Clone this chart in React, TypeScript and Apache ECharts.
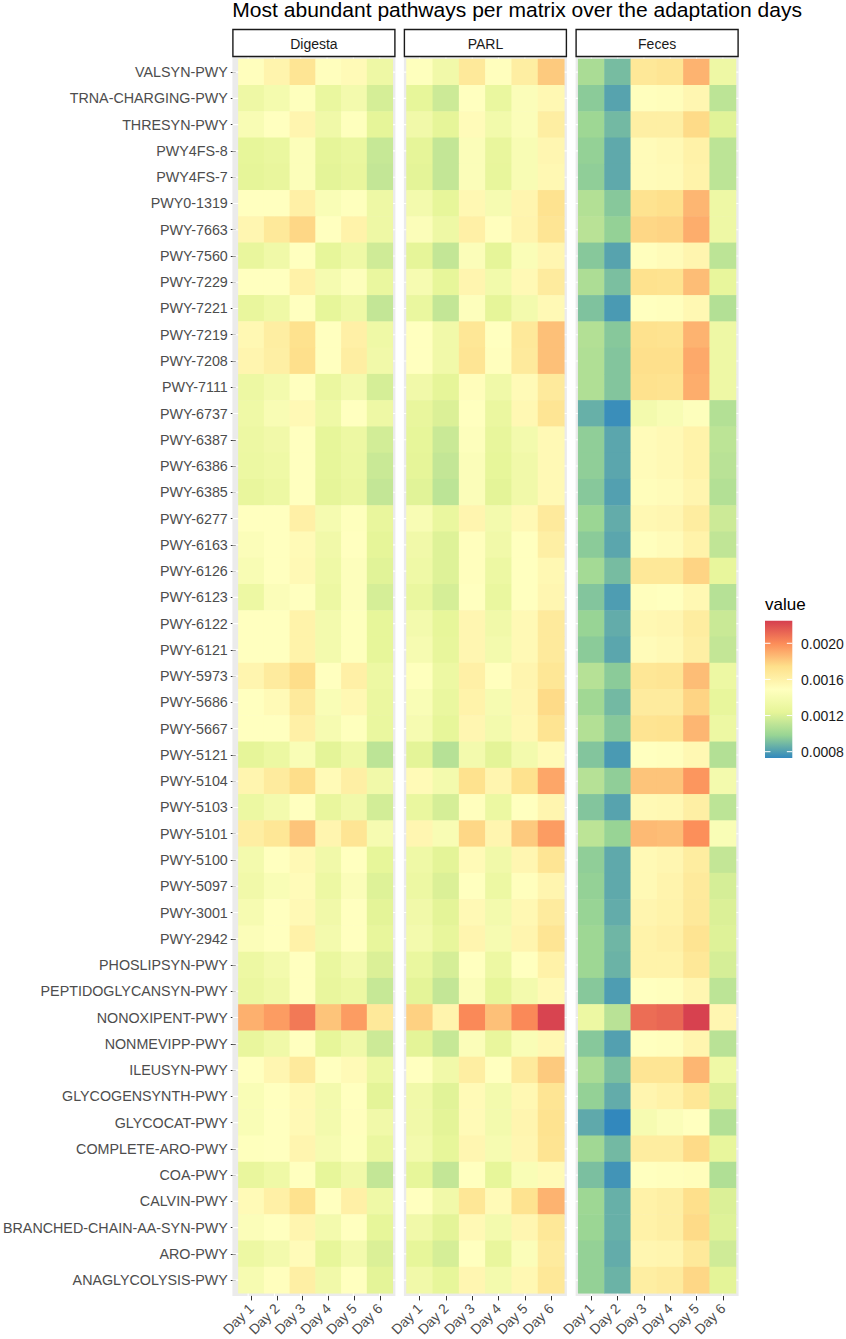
import React, { useEffect, useRef } from "react";
import * as echarts from "echarts";

const pathways = [
  "VALSYN-PWY", "TRNA-CHARGING-PWY", "THRESYN-PWY", "PWY4FS-8", "PWY4FS-7", "PWY0-1319",
  "PWY-7663", "PWY-7560", "PWY-7229", "PWY-7221", "PWY-7219", "PWY-7208", "PWY-7111",
  "PWY-6737", "PWY-6387", "PWY-6386", "PWY-6385", "PWY-6277", "PWY-6163", "PWY-6126",
  "PWY-6123", "PWY-6122", "PWY-6121", "PWY-5973", "PWY-5686", "PWY-5667", "PWY-5121",
  "PWY-5104", "PWY-5103", "PWY-5101", "PWY-5100", "PWY-5097", "PWY-3001", "PWY-2942",
  "PHOSLIPSYN-PWY", "PEPTIDOGLYCANSYN-PWY", "NONOXIPENT-PWY", "NONMEVIPP-PWY", "ILEUSYN-PWY",
  "GLYCOGENSYNTH-PWY", "GLYCOCAT-PWY", "COMPLETE-ARO-PWY", "COA-PWY", "CALVIN-PWY",
  "BRANCHED-CHAIN-AA-SYN-PWY", "ARO-PWY", "ANAGLYCOLYSIS-PWY",
];

const days = ["Day 1", "Day 2", "Day 3", "Day 4", "Day 5", "Day 6"];
const facets = ["Digesta", "PARL", "Feces"];

// values in units of 1e-5 (relative abundance), rows follow `pathways`, columns follow `days`
const digesta = [
  [150, 158, 170, 150, 153, 132], [132, 138, 148, 128, 137, 118], [142, 149, 157, 134, 148, 124],
  [125, 128, 146, 124, 128, 113], [124, 127, 146, 123, 127, 112], [149, 149, 161, 143, 148, 132],
  [156, 167, 177, 149, 159, 132], [127, 134, 149, 125, 133, 116], [149, 149, 160, 139, 147, 128],
  [127, 133, 149, 125, 133, 112], [155, 163, 173, 149, 161, 133], [157, 162, 174, 149, 163, 135],
  [131, 137, 149, 129, 137, 118], [133, 142, 154, 133, 149, 132], [131, 135, 149, 125, 131, 117],
  [130, 133, 149, 125, 130, 114], [127, 131, 149, 124, 129, 112], [149, 149, 161, 139, 148, 127],
  [145, 149, 153, 135, 149, 124], [142, 149, 154, 133, 147, 122], [131, 145, 149, 131, 147, 118],
  [149, 149, 159, 137, 148, 125], [149, 149, 159, 137, 148, 125], [157, 165, 175, 149, 161, 131],
  [149, 153, 166, 143, 155, 129], [149, 149, 161, 140, 148, 128], [124, 130, 143, 123, 133, 110],
  [157, 165, 175, 153, 162, 135], [130, 137, 149, 127, 135, 117], [163, 169, 183, 157, 170, 140],
  [137, 149, 154, 135, 149, 125], [135, 143, 152, 131, 145, 121], [140, 149, 154, 135, 149, 123],
  [145, 149, 160, 137, 149, 126], [131, 137, 149, 128, 137, 120], [129, 134, 149, 127, 131, 113],
  [189, 195, 206, 183, 195, 167], [127, 134, 149, 125, 134, 115], [149, 156, 166, 149, 153, 131],
  [143, 149, 154, 137, 149, 123], [143, 149, 154, 137, 150, 135], [148, 149, 157, 140, 148, 129],
  [127, 133, 149, 125, 135, 112], [153, 161, 173, 149, 161, 133], [145, 149, 157, 137, 149, 125],
  [131, 137, 152, 125, 137, 120], [140, 150, 162, 135, 149, 123],
];

const parl = [
  [148, 135, 167, 150, 163, 181], [125, 115, 149, 128, 145, 155], [135, 124, 152, 136, 145, 163],
  [124, 112, 145, 127, 142, 156], [123, 112, 145, 126, 142, 155], [137, 125, 155, 140, 157, 172],
  [145, 132, 161, 150, 158, 170], [124, 112, 145, 124, 144, 156], [140, 125, 157, 136, 154, 165],
  [128, 112, 147, 124, 137, 154], [149, 135, 169, 149, 167, 184], [149, 135, 170, 150, 166, 184],
  [135, 124, 151, 134, 153, 166], [127, 120, 149, 129, 155, 170], [125, 114, 147, 126, 137, 154],
  [124, 112, 145, 125, 135, 154], [122, 110, 145, 123, 135, 154], [142, 128, 157, 137, 154, 166],
  [135, 121, 150, 135, 149, 162], [133, 121, 150, 131, 149, 155], [128, 118, 149, 128, 149, 156],
  [137, 125, 156, 135, 154, 166], [140, 126, 156, 137, 154, 166], [148, 131, 161, 150, 157, 169],
  [143, 128, 159, 140, 156, 176], [140, 125, 156, 137, 155, 171], [123, 108, 137, 123, 137, 153],
  [153, 137, 173, 157, 173, 192], [128, 118, 150, 130, 149, 157], [156, 142, 177, 157, 181, 195],
  [133, 123, 153, 135, 156, 170], [131, 120, 149, 131, 150, 157], [135, 123, 154, 137, 155, 165],
  [137, 126, 157, 140, 157, 170], [128, 118, 149, 131, 149, 160], [123, 112, 145, 125, 137, 154],
  [179, 158, 201, 184, 201, 223], [123, 113, 145, 127, 143, 155], [149, 135, 163, 149, 166, 181],
  [135, 122, 153, 137, 155, 170], [135, 123, 153, 137, 157, 172], [137, 125, 156, 140, 156, 171],
  [125, 112, 149, 125, 143, 153], [149, 135, 169, 153, 172, 188], [135, 123, 154, 137, 156, 168],
  [125, 118, 149, 127, 145, 165], [135, 125, 156, 137, 155, 168],
];

const feces = [
  [104, 90, 168, 170, 188, 132], [95, 82, 150, 151, 156, 110], [100, 89, 162, 162, 176, 122],
  [97, 84, 152, 154, 160, 110], [96, 84, 152, 153, 159, 110], [107, 94, 172, 174, 187, 132],
  [109, 97, 177, 178, 190, 132], [94, 82, 150, 152, 157, 110], [105, 91, 173, 172, 185, 126],
  [92, 79, 149, 150, 155, 107], [107, 94, 173, 172, 188, 132], [106, 93, 174, 174, 191, 132],
  [106, 93, 173, 172, 190, 132], [86, 75, 137, 142, 147, 107], [96, 83, 152, 154, 159, 110],
  [96, 83, 152, 154, 159, 109], [94, 81, 151, 152, 157, 107], [99, 85, 155, 156, 164, 115],
  [95, 83, 150, 152, 159, 111], [102, 90, 168, 168, 178, 126], [93, 80, 150, 149, 155, 108],
  [98, 85, 155, 156, 164, 114], [95, 83, 152, 154, 162, 112], [108, 95, 169, 170, 185, 131],
  [101, 89, 165, 165, 178, 126], [107, 94, 171, 172, 187, 131], [93, 79, 149, 150, 155, 107],
  [108, 96, 183, 183, 197, 137], [93, 82, 154, 155, 162, 110], [110, 98, 186, 185, 199, 143],
  [96, 84, 154, 156, 164, 112], [97, 84, 154, 158, 166, 118], [98, 85, 157, 159, 167, 120],
  [100, 88, 159, 161, 171, 121], [100, 87, 159, 159, 168, 118], [94, 80, 149, 150, 156, 110],
  [131, 109, 210, 212, 224, 156], [94, 81, 149, 150, 157, 109], [104, 91, 170, 170, 187, 133],
  [97, 85, 157, 160, 169, 120], [84, 73, 140, 145, 149, 107], [101, 89, 164, 164, 176, 126],
  [91, 77, 149, 150, 151, 106], [100, 86, 160, 162, 174, 120], [99, 86, 160, 162, 176, 121],
  [97, 85, 156, 157, 167, 116], [97, 87, 163, 165, 177, 123],
];

const facetValues = [digesta, parl, feces];
const valueScale = 1e-5;

const colorMin = 0.00073;
const colorMax = 0.00225;
const palette = ["#3288BD", "#99D594", "#E6F598", "#FFFFBF", "#FEE08B", "#FC8D59", "#D53E4F"];
const legendTicks = [0.0008, 0.0012, 0.0016, 0.002];
const legendTickLabels = ["0.0008", "0.0012", "0.0016", "0.0020"];

const titleText = "Most abundant pathways per matrix over the adaptation days";

// layout
const FONT = "'Liberation Sans', Arial, Helvetica, sans-serif";
const tileTop = 59;
const tileH = 1234.3;
const tileW = 157.8;
const gridLefts = [235, 406.5, 578.2];
const pad = 2.6;
const stripTop = 29.5;
const stripH = 27;
const barX = 765;
const barY = 620.7;
const barW = 27.3;
const barH = 137.3;

export default function App() {
  const ref = useRef<HTMLDivElement>(null);

  useEffect(() => {
    if (!ref.current) return;
    const chart = echarts.init(ref.current, undefined, { renderer: "svg" });

    const grids = gridLefts.map((l) => ({ left: l, top: tileTop, width: tileW, height: tileH }));

    const xAxes = gridLefts.map((_, i) => ({
      type: "category",
      gridIndex: i,
      data: days,
      position: "bottom",
      offset: pad,
      axisLine: { show: false },
      axisTick: { show: true, alignWithLabel: true, length: 4.5, lineStyle: { color: "#333333", width: 1 } },
      axisLabel: {
        interval: 0,
        rotate: 45,
        fontSize: 14,
        fontFamily: FONT,
        color: "#4D4D4D",
        margin: 10,
      },
      splitLine: { show: false },
    }));

    const yAxes = gridLefts.map((_, i) => ({
      type: "category",
      gridIndex: i,
      data: pathways,
      inverse: true,
      offset: pad,
      axisLine: { show: false },
      axisTick: {
        show: i === 0,
        alignWithLabel: true,
        length: 5,
        lineStyle: { color: "#333333", width: 1 },
      },
      axisLabel: {
        show: i === 0,
        interval: 0,
        fontSize: 14.3,
        fontFamily: FONT,
        color: "#4D4D4D",
        margin: 8,
      },
      splitLine: { show: false },
    }));

    const series = facetValues.map((vals, i) => {
      const data: number[][] = [];
      vals.forEach((row, r) => row.forEach((v, c) => data.push([c, r, v * valueScale])));
      return {
        type: "heatmap",
        xAxisIndex: i,
        yAxisIndex: i,
        data,
        itemStyle: { borderWidth: 0 },
        emphasis: { disabled: true },
        progressive: 0,
      };
    });

    const graphics: any[] = [];
    const rowH = tileH / pathways.length;
    const colW = tileW / days.length;
    gridLefts.forEach((l, i) => {
      const px = l - pad;
      const pw = tileW + 2 * pad;
      const py = tileTop - pad;
      const ph = tileH + 2 * pad;
      graphics.push({ type: "rect", z: 0, shape: { x: px, y: py, width: pw, height: ph }, style: { fill: "#EBEBEB" } });
      pathways.forEach((_, r) => {
        const y = tileTop + (r + 0.5) * rowH;
        graphics.push({ type: "line", z: 1, shape: { x1: px, y1: y, x2: px + pw, y2: y }, style: { stroke: "#FFFFFF", lineWidth: 1.1 } });
      });
      days.forEach((_, c) => {
        const x = l + (c + 0.5) * colW;
        graphics.push({ type: "line", z: 1, shape: { x1: x, y1: py, x2: x, y2: py + ph }, style: { stroke: "#FFFFFF", lineWidth: 1.1 } });
      });
      graphics.push({
        type: "rect",
        z: 5,
        shape: { x: px + 0.5, y: stripTop, width: pw - 1, height: stripH },
        style: { fill: "#FFFFFF", stroke: "#1A1A1A", lineWidth: 1.4 },
      });
      graphics.push({
        type: "text",
        z: 6,
        x: l + tileW / 2,
        y: stripTop + stripH / 2 + 1,
        style: {
          text: facets[i],
          fontSize: 14,
          fontFamily: FONT,
          fill: "#1A1A1A",
          textAlign: "center",
          textVerticalAlign: "middle",
        },
      });
    });

    graphics.push({
      type: "text",
      z: 6,
      x: 232.3,
      y: 9.8,
      scaleX: 1.08,
      style: {
        text: titleText,
        fontSize: 19.5,
        fontFamily: FONT,
        fill: "#000000",
        textAlign: "left",
        textVerticalAlign: "middle",
      },
    });

    // legend
    graphics.push({
      type: "text",
      z: 6,
      x: barX,
      y: 604.5,
      style: { text: "value", fontSize: 17, fontFamily: FONT, fill: "#000000", textAlign: "left", textVerticalAlign: "middle" },
    });
    const stops = palette
      .slice()
      .reverse()
      .map((c, k) => ({ offset: k / (palette.length - 1), color: c }));
    graphics.push({
      type: "rect",
      z: 6,
      shape: { x: barX, y: barY, width: barW, height: barH },
      style: { fill: new echarts.graphic.LinearGradient(0, 0, 0, 1, stops) },
    });
    legendTicks.forEach((t, k) => {
      const y = barY + barH - ((t - colorMin) / (colorMax - colorMin)) * barH;
      graphics.push({ type: "line", z: 7, shape: { x1: barX, y1: y, x2: barX + barW / 5, y2: y }, style: { stroke: "#FFFFFF", lineWidth: 1 } });
      graphics.push({ type: "line", z: 7, shape: { x1: barX + barW - barW / 5, y1: y, x2: barX + barW, y2: y }, style: { stroke: "#FFFFFF", lineWidth: 1 } });
      graphics.push({
        type: "text",
        z: 7,
        x: 801,
        y: y + 0.8,
        style: { text: legendTickLabels[k], fontSize: 14, fontFamily: FONT, fill: "#1A1A1A", textAlign: "left", textVerticalAlign: "middle" },
      });
    });

    chart.setOption({
      animation: false,
      backgroundColor: "#FFFFFF",
      grid: grids,
      xAxis: xAxes,
      yAxis: yAxes,
      visualMap: {
        type: "continuous",
        show: false,
        min: colorMin,
        max: colorMax,
        seriesIndex: [0, 1, 2],
        inRange: { color: palette },
      },
      graphic: { elements: graphics },
      series,
    });

    return () => chart.dispose();
  }, []);

  return <div ref={ref} style={{ position: "absolute", left: 0, top: 0, width: 846, height: 1339 }} />;
}
